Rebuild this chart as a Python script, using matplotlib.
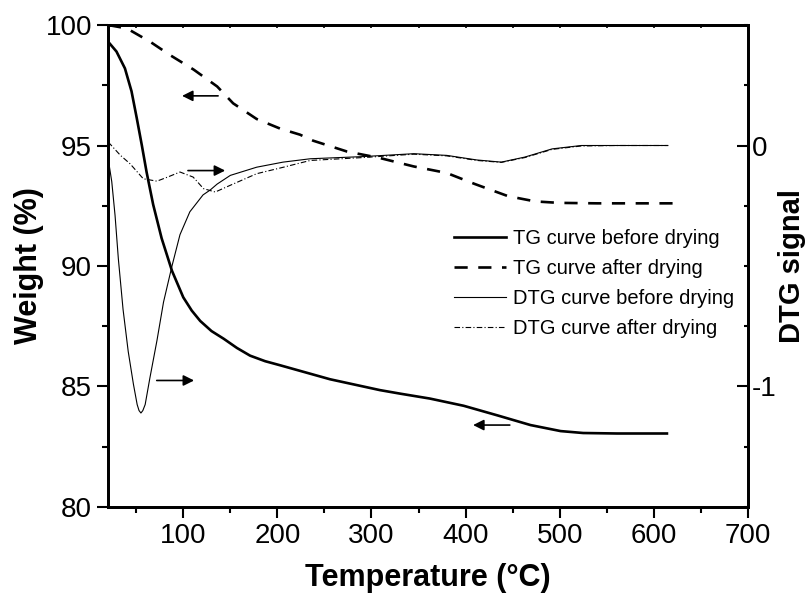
import matplotlib
matplotlib.use('Agg')
import matplotlib.pyplot as plt
from matplotlib.ticker import MultipleLocator

plt.rcParams['font.family'] = ['Liberation Sans', 'DejaVu Sans']
plt.rcParams['axes.unicode_minus'] = False

# TG curve before drying (left axis, weight %)
temp_tg_before = [20, 20.3, 29, 38, 45, 50.5, 56, 61, 68, 77, 88, 100, 109, 118, 130, 143,
                  157, 171, 187, 203, 224, 256, 309, 331, 362, 398, 434, 469, 501, 525,
                  561, 614]
tg_before = [100, 99.3, 98.9, 98.2, 97.25, 96.15, 95.0, 93.9, 92.55, 91.15, 89.8, 88.7,
             88.15, 87.72, 87.3, 86.98, 86.6, 86.28, 86.05, 85.88, 85.65, 85.3, 84.85,
             84.7, 84.5, 84.2, 83.8, 83.4, 83.15, 83.07, 83.05, 83.05]

# TG curve after drying
temp_tg_after = [20, 40, 65, 86, 111, 136, 153, 178, 203, 224, 238, 274, 309, 345, 380,
                 410, 445, 474, 499, 540, 620]
tg_after = [100, 99.86, 99.3, 98.75, 98.15, 97.45, 96.75, 96.1, 95.7, 95.45, 95.2, 94.75,
            94.48, 94.13, 93.86, 93.4, 92.9, 92.68, 92.62, 92.6, 92.6]

# DTG curve before drying (right axis)
temp_dtg_before = [20, 22, 24, 27.5, 31, 36, 41.5, 47, 51, 53, 55, 57, 59.5, 64.5, 72, 79,
                   88, 96.5, 107, 121, 128.5, 136, 150, 178, 206, 235, 291, 345, 380, 412,
                   438, 463, 492, 523, 560, 615]
dtg_before = [-0.05, -0.1, -0.15, -0.29, -0.47, -0.68, -0.855, -0.99, -1.075, -1.1, -1.11,
              -1.1, -1.075, -0.965, -0.81, -0.65, -0.5, -0.37, -0.275, -0.205, -0.185,
              -0.16, -0.124, -0.09, -0.069, -0.055, -0.046, -0.034, -0.041, -0.06, -0.069,
              -0.048, -0.014, 0.0, 0.0, 0.0]

# DTG curve after drying
temp_dtg_after = [20, 22, 33, 43.5, 57.5, 72, 84, 96.5, 110.5, 121.5, 134, 150, 178,
                  206.5, 235, 291, 345, 380, 412, 438, 463, 492, 523, 560, 615]
dtg_after = [0.0, 0.007, -0.04, -0.076, -0.138, -0.148, -0.13, -0.11, -0.131, -0.179,
             -0.193, -0.165, -0.117, -0.09, -0.062, -0.05, -0.036, -0.043, -0.062, -0.07,
             -0.05, -0.016, -0.002, 0.0, 0.0]

fig = plt.figure(figsize=(8.12, 6.04), dpi=100)
ax = fig.add_axes([0.133, 0.1606, 0.788, 0.798])
ax2 = ax.twinx()

l1, = ax.plot(temp_tg_before, tg_before, color='k', lw=1.9, solid_joinstyle='round',
              label='TG curve before drying')
l2, = ax.plot(temp_tg_after, tg_after, color='k', lw=1.9, dashes=(5, 4),
              label='TG curve after drying')
l3, = ax2.plot(temp_dtg_before, dtg_before, color='k', lw=0.8, solid_joinstyle='round',
               label='DTG curve before drying')
l4, = ax2.plot(temp_dtg_after, dtg_after, color='k', lw=0.8, dashes=(5, 2, 1, 2),
               label='DTG curve after drying')

ax.set_xlim(20, 700)
ax.set_ylim(80, 100)
ax2.set_ylim(-1.5, 0.5)

ax.xaxis.set_major_locator(MultipleLocator(100))
ax.xaxis.set_minor_locator(MultipleLocator(50))
ax.yaxis.set_major_locator(MultipleLocator(5))
ax.yaxis.set_minor_locator(MultipleLocator(2.5))
ax2.yaxis.set_major_locator(MultipleLocator(1))
ax2.yaxis.set_minor_locator(MultipleLocator(0.25))
ax.set_xticks([100, 200, 300, 400, 500, 600, 700])

ax.tick_params(which='major', direction='out', length=8, width=1.5, labelsize=20)
ax.tick_params(which='minor', direction='out', length=4.5, width=1.5)
ax2.tick_params(which='major', direction='in', length=8, width=1.5, labelsize=20, pad=3)
ax2.tick_params(which='minor', direction='in', length=3, width=1.5)

top = ax.secondary_xaxis('top')
top.xaxis.set_major_locator(MultipleLocator(100))
top.xaxis.set_minor_locator(MultipleLocator(50))
top.tick_params(which='both', direction='in', length=2.5, width=1.2, labeltop=False)

for a in (ax, ax2):
    for s in a.spines.values():
        s.set_linewidth(2)
top.spines['top'].set_linewidth(2)

ax.set_xlabel('Temperature (°C)', fontsize=22, fontweight='bold', labelpad=10)
ax.set_ylabel('Weight (%)', fontsize=22, fontweight='bold', labelpad=1)
ax2.set_ylabel('DTG signal', fontsize=21, fontweight='bold', labelpad=1, rotation=90)

# direction arrows
arrow = dict(arrowstyle='-|>', color='k', lw=1.2, mutation_scale=16, shrinkA=0, shrinkB=0)
ax.annotate('', xy=(98.7, 97.06), xytext=(137, 97.06), arrowprops=arrow)
ax.annotate('', xy=(144.5, 93.96), xytext=(105, 93.96), arrowprops=arrow)
ax.annotate('', xy=(111.5, 85.25), xytext=(71.8, 85.25), arrowprops=arrow)
ax.annotate('', xy=(408, 83.4), xytext=(447, 83.4), arrowprops=arrow)

ax.legend(handles=[l1, l2, l3, l4], loc='center left', bbox_to_anchor=(0.54, 0.464),
          frameon=False, fontsize=14.5, handlelength=2.6, handletextpad=0.35,
          labelspacing=0.55, borderpad=0, borderaxespad=0)

fig.savefig('out.png', dpi=100)
